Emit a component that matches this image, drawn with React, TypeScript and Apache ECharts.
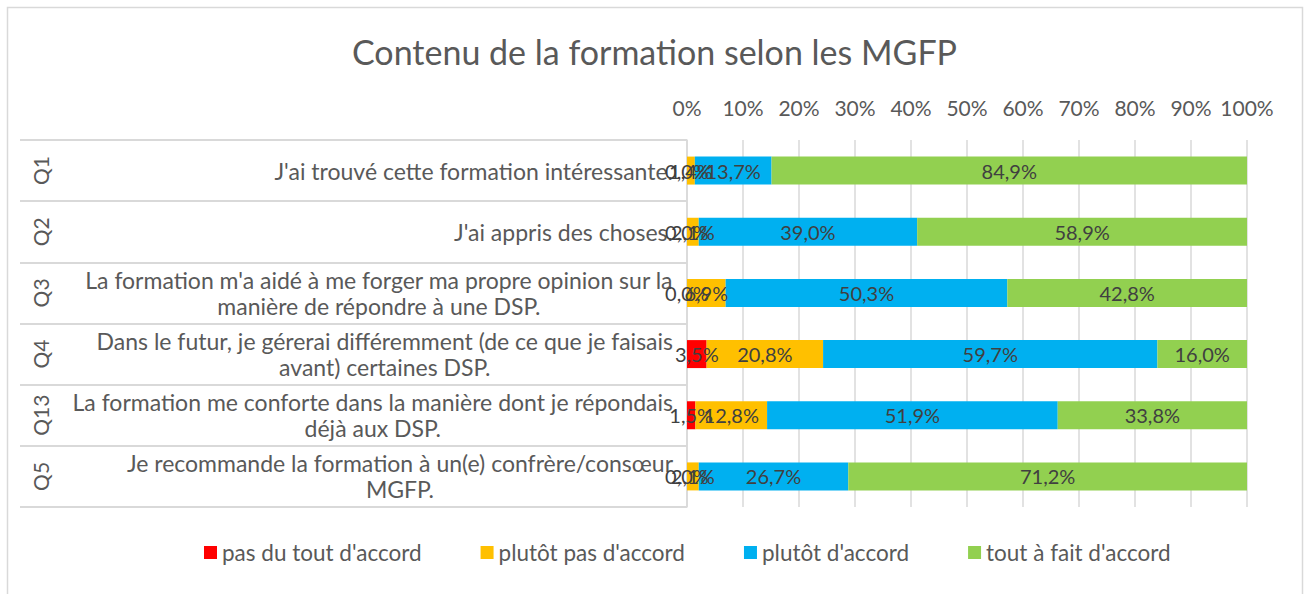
import React, { useEffect, useRef } from "react";
import * as echarts from "echarts";

const qCodes = ["Q1", "Q2", "Q3", "Q4", "Q13", "Q5"];
const questions = [
  ["J'ai trouvé cette formation intéressante."],
  ["J'ai appris des choses."],
  ["La formation m'a aidé à me forger ma propre opinion sur la", "manière de répondre à une DSP."],
  ["Dans le futur, je gérerai différemment (de ce que je faisais", "avant) certaines DSP."],
  ["La formation me conforte dans la manière dont je répondais", "déjà aux DSP."],
  ["Je recommande la formation à un(e) confrère/consœur", "MGFP."],
];
const seriesNames = ["pas du tout d'accord", "plutôt pas d'accord", "plutôt d'accord", "tout à fait d'accord"];
const pasDuTout = [0.0, 0.0, 0.0, 3.5, 1.5, 0.0];
const plutotPas = [1.4, 2.1, 6.9, 20.8, 12.8, 2.1];
const plutot = [13.7, 39.0, 50.3, 59.7, 51.9, 26.7];
const toutAFait = [84.9, 58.9, 42.8, 16.0, 33.8, 71.2];
const colors = ["#FF0000", "#FFC000", "#00B0F0", "#92D050"];
const xTicks = [0, 10, 20, 30, 40, 50, 60, 70, 80, 90, 100];

const FONT = "Lato";

export default function App() {
  const ref = useRef<HTMLDivElement>(null);
  useEffect(() => {
    const chart = echarts.init(ref.current!, null, { renderer: "svg" });
    const values = [pasDuTout, plutotPas, plutot, toutAFait];
    const labelKeys = questions.map((_, i) => "L" + i);
    chart.setOption({
      animation: false,
      textStyle: { fontFamily: FONT },
      title: {
        text: "Contenu de la formation selon les MGFP",
        left: "center",
        top: 29,
        textStyle: { fontFamily: FONT, fontSize: 34, fontWeight: "normal", color: "#595959" },
      },
      graphic: [
        {
          type: "rect",
          z: -10,
          shape: { x: 7.5, y: 7.5, width: 1295, height: 700 },
          style: { fill: "none", stroke: "#d9d9d9", lineWidth: 1.5 },
        },
      ],
      legend: {
        bottom: 25,
        left: 199,
        itemWidth: 13,
        itemHeight: 13,
        itemGap: 59,
        icon: "rect",
        textStyle: { fontFamily: FONT, fontSize: 22.5, color: "#595959" },
        data: seriesNames,
      },
      grid: { left: 687, right: 62, top: 140, bottom: 87, containLabel: false },
      xAxis: {
        type: "value",
        position: "top",
        min: 0,
        max: 100,
        interval: 10,
        axisLine: { show: false },
        axisTick: { show: false },
        axisLabel: {
          margin: 22,
          fontSize: 21,
          color: "#595959",
          fontFamily: FONT,
          formatter: (v: number) => (xTicks.includes(v) ? v + "%" : ""),
        },
        splitLine: { show: true, lineStyle: { color: "#d9d9d9", width: 1.5 } },
      },
      yAxis: [
        {
          type: "category",
          inverse: true,
          data: labelKeys,
          position: "left",
          axisLine: { show: true, lineStyle: { color: "#d9d9d9", width: 1.5 } },
          axisTick: { show: true, length: 667, lineStyle: { color: "#d9d9d9", width: 2 } },
          axisLabel: {
            margin: 14,
            align: "right",
            formatter: (v: string) => {
              const i = labelKeys.indexOf(v);
              return questions[i].map((l) => "{c|" + l + "}").join("\n");
            },
            rich: {
              c: { align: "center", fontSize: 23, lineHeight: 26, color: "#595959", fontFamily: FONT },
            },
          },
        },
        {
          type: "category",
          inverse: true,
          data: qCodes,
          position: "left",
          axisLine: { show: false },
          axisTick: { show: false },
          axisLabel: { margin: 636, rotate: 90, fontSize: 21, color: "#595959", fontFamily: FONT },
        },
      ],
      series: seriesNames.map((name, si) => ({
        name,
        type: "bar",
        stack: "total",
        yAxisIndex: 0,
        barWidth: 28,
        itemStyle: { color: colors[si] },
        label: {
          show: true,
          position: "inside",
          fontSize: 20,
          color: "#404040",
          fontFamily: FONT,
          formatter: (p: any) => p.value.toFixed(1).replace(".", ",") + "%",
        },
        data: values[si],
      })),
    });
    return () => chart.dispose();
  }, []);
  return (
    <div
      ref={ref}
      style={{ position: "absolute", left: 0, top: 0, width: 1309, height: 594, background: "#fff" }}
    />
  );
}
